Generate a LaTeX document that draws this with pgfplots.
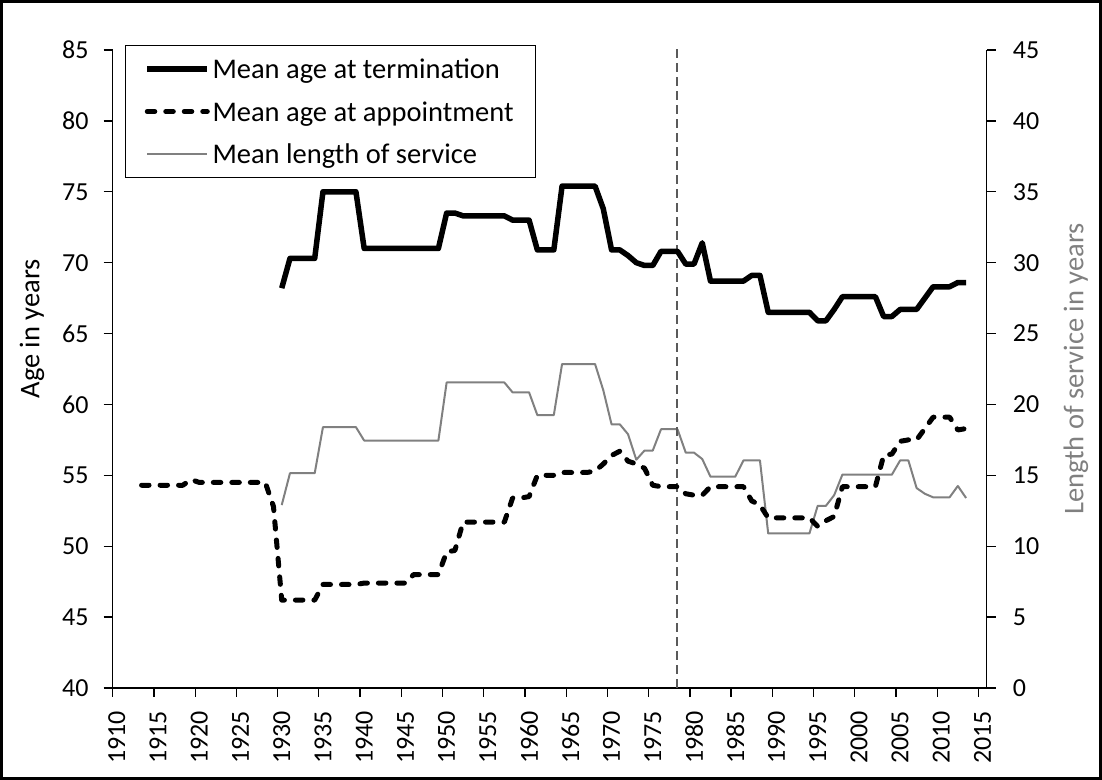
\documentclass[border=0pt]{standalone}
\usepackage{fontspec}
\setmainfont{Carlito}
\usepackage{pgfplots}
\usepackage{pgfplotstable}
\pgfplotsset{compat=1.18}
\definecolor{servgray}{RGB}{128,128,128}
\definecolor{vlinegray}{RGB}{90,90,90}
\newcommand\tickfont{\fontsize{26}{26}\selectfont}
\newcommand\labfont{\fontsize{28.5}{30}\selectfont}

\pgfplotstableread{
year val
1930 68.2
1931 70.3
1932 70.3
1933 70.3
1934 70.3
1935 75.0
1936 75.0
1937 75.0
1938 75.0
1939 75.0
1940 71.0
1941 71.0
1942 71.0
1943 71.0
1944 71.0
1945 71.0
1946 71.0
1947 71.0
1948 71.0
1949 71.0
1950 73.5
1951 73.5
1952 73.3
1953 73.3
1954 73.3
1955 73.3
1956 73.3
1957 73.3
1958 73.0
1959 73.0
1960 73.0
1961 70.9
1962 70.9
1963 70.9
1964 75.4
1965 75.4
1966 75.4
1967 75.4
1968 75.4
1969 73.8
1970 70.9
1971 70.9
1972 70.5
1973 70.0
1974 69.8
1975 69.8
1976 70.8
1977 70.8
1978 70.8
1979 69.9
1980 69.9
1981 71.4
1982 68.7
1983 68.7
1984 68.7
1985 68.7
1986 68.7
1987 69.1
1988 69.1
1989 66.5
1990 66.5
1991 66.5
1992 66.5
1993 66.5
1994 66.5
1995 65.9
1996 65.9
1997 66.7
1998 67.6
1999 67.6
2000 67.6
2001 67.6
2002 67.6
2003 66.2
2004 66.2
2005 66.7
2006 66.7
2007 66.7
2008 67.5
2009 68.3
2010 68.3
2011 68.3
2012 68.6
2013 68.6
}\termtab

\pgfplotstableread{
year val
1913 54.3
1914 54.3
1915 54.3
1916 54.3
1917 54.3
1918 54.3
1919 54.7
1920 54.5
1921 54.5
1922 54.5
1923 54.5
1924 54.5
1925 54.5
1926 54.5
1927 54.5
1928 54.5
1929 52.8
1930 46.2
1931 46.2
1932 46.2
1933 46.2
1934 46.2
1935 47.3
1936 47.3
1937 47.3
1938 47.3
1939 47.3
1940 47.4
1941 47.4
1942 47.4
1943 47.4
1944 47.4
1945 47.4
1946 48.0
1947 48.0
1948 48.0
1949 48.0
1950 49.6
1951 49.7
1952 51.7
1953 51.7
1954 51.7
1955 51.7
1956 51.7
1957 51.7
1958 53.4
1959 53.4
1960 53.5
1961 55.0
1962 55.0
1963 55.0
1964 55.2
1965 55.2
1966 55.2
1967 55.2
1968 55.3
1969 55.8
1970 56.4
1971 56.7
1972 56.0
1973 55.8
1974 55.5
1975 54.3
1976 54.2
1977 54.2
1978 54.2
1979 53.7
1980 53.6
1981 53.6
1982 54.2
1983 54.2
1984 54.2
1985 54.2
1986 54.2
1987 53.2
1988 52.9
1989 52.0
1990 52.0
1991 52.0
1992 52.0
1993 52.0
1994 52.0
1995 51.4
1996 51.8
1997 52.1
1998 54.2
1999 54.2
2000 54.2
2001 54.2
2002 54.2
2003 56.4
2004 56.5
2005 57.4
2006 57.5
2007 57.5
2008 58.3
2009 59.1
2010 59.1
2011 59.1
2012 58.2
2013 58.3
}\appttab

\pgfplotstableread{
year val
1930 12.9
1931 15.15
1932 15.15
1933 15.15
1934 15.15
1935 18.4
1936 18.4
1937 18.4
1938 18.4
1939 18.4
1940 17.45
1941 17.45
1942 17.45
1943 17.45
1944 17.45
1945 17.45
1946 17.45
1947 17.45
1948 17.45
1949 17.45
1950 21.55
1951 21.55
1952 21.55
1953 21.55
1954 21.55
1955 21.55
1956 21.55
1957 21.55
1958 20.85
1959 20.85
1960 20.85
1961 19.25
1962 19.25
1963 19.25
1964 22.85
1965 22.85
1966 22.85
1967 22.85
1968 22.85
1969 21.0
1970 18.6
1971 18.6
1972 17.9
1973 16.1
1974 16.75
1975 16.75
1976 18.25
1977 18.25
1978 18.25
1979 16.6
1980 16.6
1981 16.15
1982 14.9
1983 14.9
1984 14.9
1985 14.9
1986 16.05
1987 16.05
1988 16.05
1989 10.9
1990 10.9
1991 10.9
1992 10.9
1993 10.9
1994 10.9
1995 12.85
1996 12.85
1997 13.6
1998 15.05
1999 15.05
2000 15.05
2001 15.05
2002 15.05
2003 15.05
2004 15.05
2005 16.05
2006 16.05
2007 14.1
2008 13.7
2009 13.45
2010 13.45
2011 13.45
2012 14.25
2013 13.4
}\servtab

\begin{document}
\begin{tikzpicture}
% right axis: length of service (drawn first, behind)
\begin{axis}[
  width=874pt, height=638pt, scale only axis,
  xmin=1910, xmax=2016, ymin=0, ymax=45,
  axis y line*=right, axis x line*=bottom,
  x axis line style={-}, y axis line style={-},
  axis line style={black, line width=1.3pt},
  xtick={1910,1915,1920,1925,1930,1935,1940,1945,1950,1955,1960,1965,1970,1975,1980,1985,1990,1995,2000,2005,2010,2015},
  xticklabels={},
  ytick={0,5,10,15,20,25,30,35,40,45},
  tick align=outside, major tick length=9pt,
  tick style={black, line width=1.3pt},
  /pgf/number format/assume math mode=true,
  yticklabel style={font=\tickfont, anchor=west, inner sep=0pt},
  yticklabel shift=17pt,
  ylabel={Length of service in years},
  ylabel style={font=\labfont, text=servgray, at={(axis description cs:1.1022,0.5)}, anchor=center, rotate=0},
]
\addplot[servgray, line width=2pt, line join=round] table[x expr=\thisrow{year}+0.5, y=val]{\servtab};
\end{axis}
% left axis: ages
\begin{axis}[
  width=874pt, height=638pt, scale only axis,
  xmin=1910, xmax=2016, ymin=40, ymax=85,
  axis x line*=bottom, axis y line*=left,
  x axis line style={-}, y axis line style={-},
  axis line style={black, line width=1.3pt},
  xtick={1910.5,1915.5,1920.5,1925.5,1930.5,1935.5,1940.5,1945.5,1950.5,1955.5,1960.5,1965.5,1970.5,1975.5,1980.5,1985.5,1990.5,1995.5,2000.5,2005.5,2010.5,2015.5},
  xticklabels={1910,1915,1920,1925,1930,1935,1940,1945,1950,1955,1960,1965,1970,1975,1980,1985,1990,1995,2000,2005,2010,2015},
  xtick style={draw=none},
  ytick={40,45,50,55,60,65,70,75,80,85},
  tick align=outside, major tick length=9pt,
  ytick style={black, line width=1.3pt},
  /pgf/number format/assume math mode=true,
  yticklabel style={font=\tickfont, anchor=east, inner sep=0pt},
  yticklabel shift=15pt,
  xticklabel style={font=\tickfont, rotate=90, anchor=east, inner sep=0pt},
  xticklabel shift=14pt,
  ylabel={Age in years},
  ylabel style={font=\labfont, at={(axis description cs:-0.0923,0.563)}, anchor=center},
  legend cell align=left,
  legend image code/.code={\draw[#1] (0pt,0pt) -- (60pt,0pt);},
  legend style={at={(axis description cs:0.0141,1.0078)}, anchor=north west,
    draw=black, line width=1pt, fill=white, font=\labfont,
    inner xsep=19pt, inner ysep=10.5pt, row sep=16.5pt, column sep=0pt,
    nodes={inner xsep=2.5pt, inner ysep=0pt, text height=22.5pt, text depth=3.5pt}},
]
\addplot[vlinegray, line width=2pt, dash pattern=on 9pt off 5pt, forget plot] coordinates {(1978.45,40) (1978.45,85.2)};
\addplot[black, line width=5.5pt, line join=round] table[x expr=\thisrow{year}+0.5, y=val]{\termtab};
\addlegendentry{Mean age at termination}
\addplot[black, line width=5pt, line join=round, line cap=round, dash pattern=on 7.5pt off 11pt] table[x expr=\thisrow{year}+0.5, y=val]{\appttab};
\addlegendentry{Mean age at appointment}
\addlegendimage{servgray, line width=2pt}
\addlegendentry{Mean length of service}
\coordinate (pSW) at (rel axis cs:0,0);
\coordinate (pNE) at (rel axis cs:1,1);
\end{axis}
\pgfresetboundingbox
\path[use as bounding box] ([shift={(-112.7pt,-92pt)}]pSW) rectangle ([shift={(115.3pt,50pt)}]pNE);
\draw[line width=3pt] ([shift={(-111.2pt,-90.5pt)}]pSW) rectangle ([shift={(113.8pt,48.5pt)}]pNE);
\end{tikzpicture}
\end{document}
